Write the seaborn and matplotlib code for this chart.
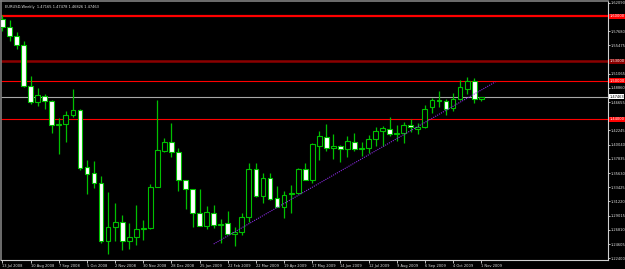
import matplotlib
matplotlib.use("Agg")
import matplotlib.pyplot as plt
import matplotlib.transforms as mtransforms
from matplotlib import font_manager
import seaborn as sns
import pandas as pd
import numpy as np

# ---- data (weekly EURUSD, from 13 Jul 2008) ----
opens = [1.5956, 1.5832, 1.5692, 1.5552, 1.4915, 1.4667, 1.4760, 1.4683, 1.4310, 1.4325,
         1.4465, 1.4543, 1.3658, 1.3564, 1.3409, 1.2508, 1.2726, 1.2803, 1.2508, 1.2571,
         1.2695, 1.2705, 1.3347, 1.3906, 1.4046, 1.3891, 1.3456, 1.3316, 1.2943, 1.2741,
         1.2943, 1.2757, 1.2788, 1.2617, 1.2648, 1.2881, 1.3627, 1.3207, 1.3487, 1.3176,
         1.3036, 1.3238, 1.3254, 1.3627, 1.3456, 1.3984, 1.4123, 1.3953, 1.3984, 1.3937,
         1.4046, 1.3937, 1.3945, 1.4092, 1.4217, 1.4248, 1.4170, 1.4180, 1.4310, 1.4248,
         1.4279, 1.4589, 1.4690, 1.4683, 1.4574, 1.4714, 1.4869, 1.4993, 1.47165]
highs = [1.6018, 1.5940, 1.5754, 1.5614, 1.5071, 1.4884, 1.4791, 1.4700, 1.4418, 1.4527,
         1.4869, 1.4558, 1.3766, 1.3751, 1.3518, 1.3269, 1.3098, 1.2912, 1.2788, 1.3067,
         1.2835, 1.3393, 1.4698, 1.4108, 1.4341, 1.3953, 1.3460, 1.3320, 1.3316, 1.3052,
         1.3067, 1.2850, 1.2974, 1.2726, 1.2943, 1.3720, 1.3720, 1.3564, 1.3564, 1.3362,
         1.3285, 1.3378, 1.3642, 1.3720, 1.4030, 1.4220, 1.4325, 1.4170, 1.3999, 1.4139,
         1.4186, 1.4046, 1.4155, 1.4279, 1.4294, 1.4434, 1.4310, 1.4356, 1.4403, 1.4341,
         1.4620, 1.4729, 1.4838, 1.4714, 1.4807, 1.5009, 1.5055, 1.5040, 1.47478]
lows = [1.5770, 1.5614, 1.5490, 1.4900, 1.4636, 1.4605, 1.4558, 1.4186, 1.3859, 1.4046,
        1.4434, 1.3611, 1.3238, 1.3331, 1.2477, 1.2307, 1.2508, 1.2369, 1.2384, 1.2446,
        1.2524, 1.2690, 1.3340, 1.3890, 1.3813, 1.3285, 1.3005, 1.2726, 1.2735, 1.2695,
        1.2710, 1.2477, 1.2610, 1.2431, 1.2602, 1.2803, 1.3192, 1.3098, 1.3150, 1.3030,
        1.2866, 1.2943, 1.3238, 1.3450, 1.3409, 1.3766, 1.3906, 1.3782, 1.3735, 1.3813,
        1.3906, 1.3828, 1.3875, 1.3984, 1.3984, 1.4139, 1.4061, 1.4030, 1.4200, 1.4170,
        1.4263, 1.4496, 1.4589, 1.4465, 1.4527, 1.4698, 1.4791, 1.4651, 1.46826]
closes = [1.5832, 1.5692, 1.5552, 1.4915, 1.4667, 1.4776, 1.4683, 1.4310, 1.4325, 1.4465,
          1.4543, 1.3642, 1.3549, 1.3409, 1.2508, 1.2726, 1.2803, 1.2508, 1.2571, 1.2695,
          1.2705, 1.3347, 1.3922, 1.4046, 1.3891, 1.3456, 1.3316, 1.2943, 1.2741, 1.2959,
          1.2757, 1.2772, 1.2617, 1.2648, 1.2881, 1.3627, 1.3207, 1.3487, 1.3161, 1.3036,
          1.3223, 1.3254, 1.3627, 1.3456, 1.4015, 1.4139, 1.3953, 1.3984, 1.3937, 1.4061,
          1.3937, 1.3945, 1.4092, 1.4217, 1.4263, 1.4170, 1.4180, 1.4310, 1.4279, 1.4279,
          1.4558, 1.4698, 1.4675, 1.4558, 1.4714, 1.4900, 1.4993, 1.4714, 1.47463]

date_labels = ["13 Jul 2008", "10 Aug 2008", "7 Sep 2008", "5 Oct 2008", "2 Nov 2008",
               "30 Nov 2008", "28 Dec 2008", "25 Jan 2009", "22 Feb 2009", "22 Mar 2009",
               "19 Apr 2009", "17 May 2009", "14 Jun 2009", "12 Jul 2009", "9 Aug 2009",
               "6 Sep 2009", "4 Oct 2009", "1 Nov 2009"]
date_label_week = [0, 4, 8, 12, 16, 20, 24, 28, 32, 36, 40, 44, 48, 52, 56, 60, 64, 68]

price_ticks = [1.22400, 1.24605, 1.26810, 1.29015, 1.31220, 1.33425, 1.35630, 1.37835,
               1.40040, 1.42245, 1.46655, 1.48860, 1.51065, 1.55475,
               1.57680, 1.62090]

level_prices = [1.6000, 1.5300, 1.5000, 1.4400]
level_colors = ["#FF0000", "#8B0000", "#FF0000", "#FF0000"]
level_widths = [1.6, 1.8, 0.8, 0.8]

bid_price = 1.47463
trend_week = [30, 70]
trend_price = [1.2462, 1.4978]

title_text = "EURUSD,Weekly  1.47165 1.47478 1.46826 1.47463"

# ---- figure ----
sns.set_theme(style="dark")
available = {f.name for f in font_manager.fontManager.ttflist}
if "Liberation Sans Narrow" in available:
    plt.rcParams['font.family'] = ['Liberation Sans Narrow', 'DejaVu Sans']
    fs = 3.3
else:
    plt.rcParams['font.family'] = ['DejaVu Sans']
    fs = 2.6

W, H = 625, 269
fig = plt.figure(figsize=(W / 100, H / 100), dpi=100, facecolor="black")
ax = fig.add_axes([1 / W, (H - 259.5) / H, 606.5 / W, 258.5 / H])
ax.set_facecolor("black")

df = pd.DataFrame({"week": np.arange(len(opens)), "open": opens, "high": highs,
                   "low": lows, "close": closes})
df["bull"] = df["close"] >= df["open"]
df["bottom"] = df[["open", "close"]].min(axis=1)
df["height"] = (df["close"] - df["open"]).abs().clip(lower=0.0002)

green = "#00C000"
ax.vlines(df["week"], df["low"], df["high"], color=green, lw=0.9, zorder=2)
fills = np.where(df["bull"], "black", "white")
ax.bar(df["week"], df["height"], bottom=df["bottom"], width=0.68,
       color=fills, edgecolor=green, linewidth=0.8, zorder=3)

for p, c, w in zip(level_prices, level_colors, level_widths):
    ax.axhline(p, color=c, lw=w, zorder=1)
ax.axhline(bid_price, color="#A8A8A8", lw=0.8, zorder=1)

tdf = pd.DataFrame({"week": trend_week, "price": trend_price})
sns.lineplot(data=tdf, x="week", y="price", ax=ax, color="#8A2BE2", lw=0.8,
             linestyle=(0, (1, 1)), zorder=4)

ax.set_xlim(-0.213, 85.94)
ax.set_ylim(1.2221, 1.6235)
ax.set_xlabel("")
ax.set_ylabel("")

for s in ["left", "top"]:
    ax.spines[s].set_color("#808080")
    ax.spines[s].set_linewidth(1.2)
for s in ["right", "bottom"]:
    ax.spines[s].set_color("#D0D0D0")
    ax.spines[s].set_linewidth(0.8)
    ax.spines[s].set_visible(True)
ax.grid(False)

ax.yaxis.tick_right()
ax.set_yticks(price_ticks)
ax.set_yticklabels([f"{v:.5f}" for v in price_ticks])
ax.tick_params(axis="y", colors="#E0E0E0", labelsize=fs, length=1.5, width=0.6, pad=0.5,
               right=True, left=False)
ax.set_xticks(date_label_week)
ax.set_xticklabels(date_labels)
ax.tick_params(axis="x", colors="#E0E0E0", labelsize=fs, length=2, width=0.6, pad=1.2,
               bottom=True)
for lbl in ax.get_xticklabels():
    lbl.set_horizontalalignment("left")

trans = mtransforms.blended_transform_factory(ax.transAxes, ax.transData)
for p, c in zip(level_prices, level_colors):
    ax.text(1.003, p, f"{p:.5f}", transform=trans, fontsize=fs, color="white",
            va="center", ha="left", zorder=10,
            bbox=dict(boxstyle="square,pad=0.15", fc=c, ec="none"))
ax.text(1.003, bid_price, f"{bid_price:.5f}", transform=trans, fontsize=fs, color="black",
        va="center", ha="left", zorder=10,
        bbox=dict(boxstyle="square,pad=0.15", fc="white", ec="none"))

ax.text(0.006, 0.985, title_text, transform=ax.transAxes, fontsize=fs, color="#E0E0E0",
        va="top", ha="left")

fig.savefig("out.png", dpi=100, facecolor="black")
